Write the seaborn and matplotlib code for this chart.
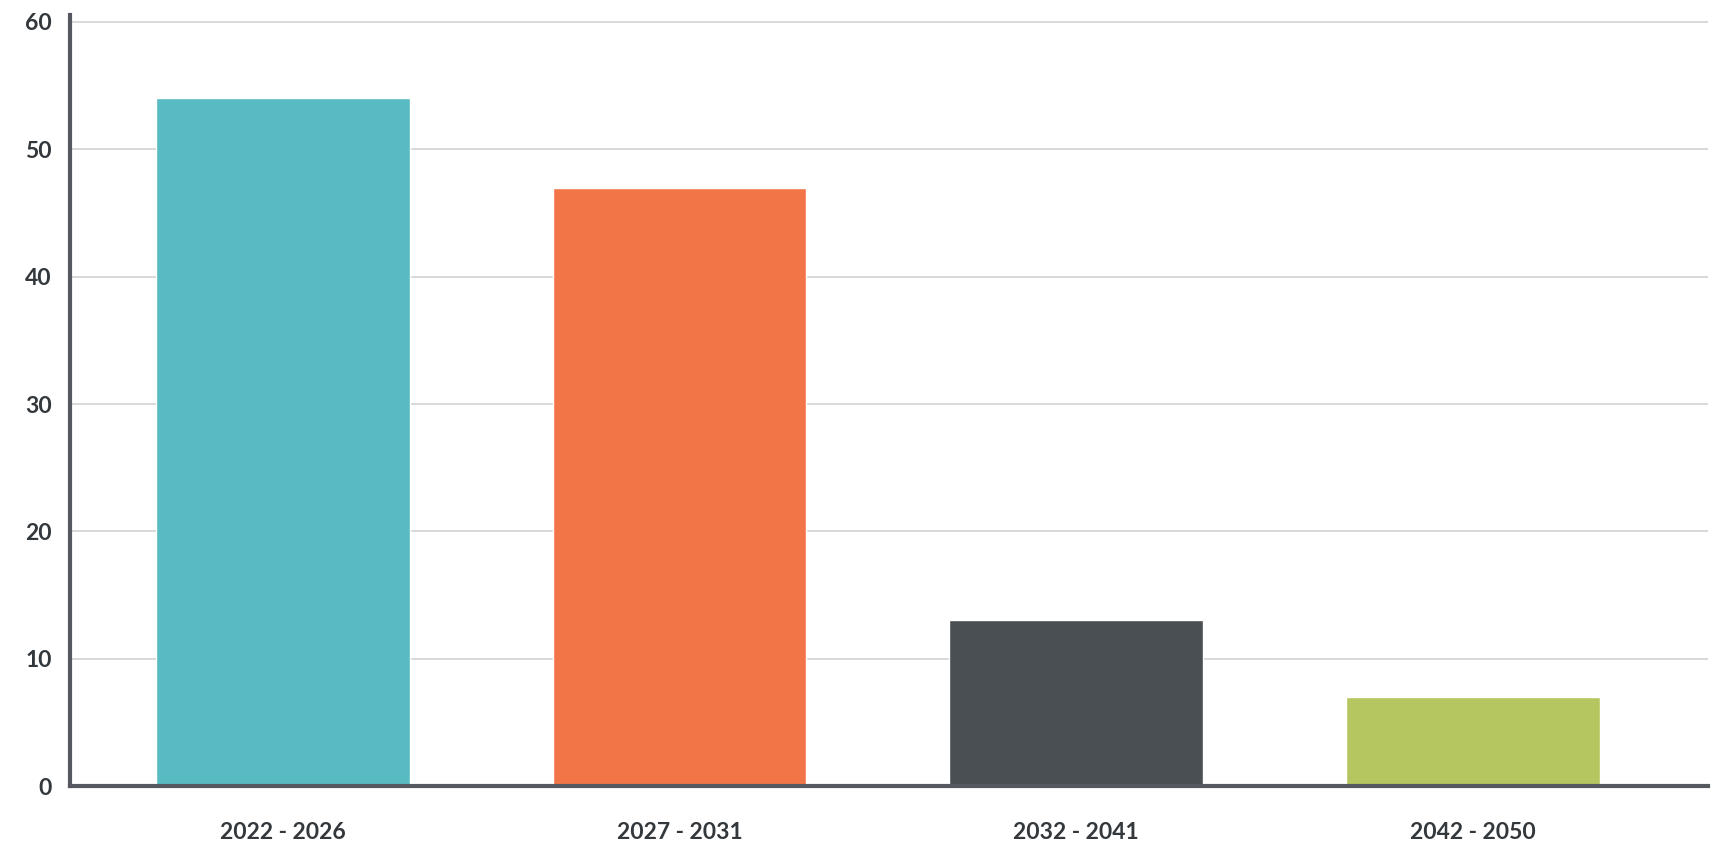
import matplotlib
matplotlib.use("Agg")
import matplotlib.pyplot as plt
import pandas as pd
import seaborn as sns

periods = ["2022 - 2026", "2027 - 2031", "2032 - 2041", "2042 - 2050"]
values = [54, 47, 13, 7]
colors = ["#58BBC3", "#F27547", "#4A4F53", "#B5C55F"]
yticks = [0, 10, 20, 30, 40, 50, 60]

sns.set_theme(style="white")
plt.rcParams["font.family"] = ["Lato", "DejaVu Sans"]

df = pd.DataFrame({"period": periods, "value": values})

fig = plt.figure(figsize=(17.2, 8.6), dpi=100)
ax = fig.add_axes([0.0407, 0.086, 0.9523, 0.8966])

sns.barplot(data=df, x="period", y="value", hue="period", palette=colors,
            width=0.64, legend=False, saturation=1, ax=ax, zorder=3)

ax.set_xlim(-0.537, 3.593)
ax.set_ylim(0, 60.55)
ax.set_yticks(yticks)
ax.yaxis.grid(True, color="#d6d6d6", lw=1.3, zorder=0)
ax.set_axisbelow(True)

for s in ["top", "right"]:
    ax.spines[s].set_visible(False)
for s in ["left", "bottom"]:
    ax.spines[s].set_color("#55585f")
    ax.spines[s].set_linewidth(3)
    ax.spines[s].set_zorder(5)

ax.tick_params(axis="x", length=0, pad=26, labelsize=16.5, labelcolor="#33383d")
ax.tick_params(axis="y", length=0, pad=13, labelsize=16.5, labelcolor="#33383d")
for lab in ax.get_xticklabels() + ax.get_yticklabels():
    lab.set_fontweight("bold")
ax.set_xlabel("")
ax.set_ylabel("")

fig.savefig("out.png", dpi=100)
